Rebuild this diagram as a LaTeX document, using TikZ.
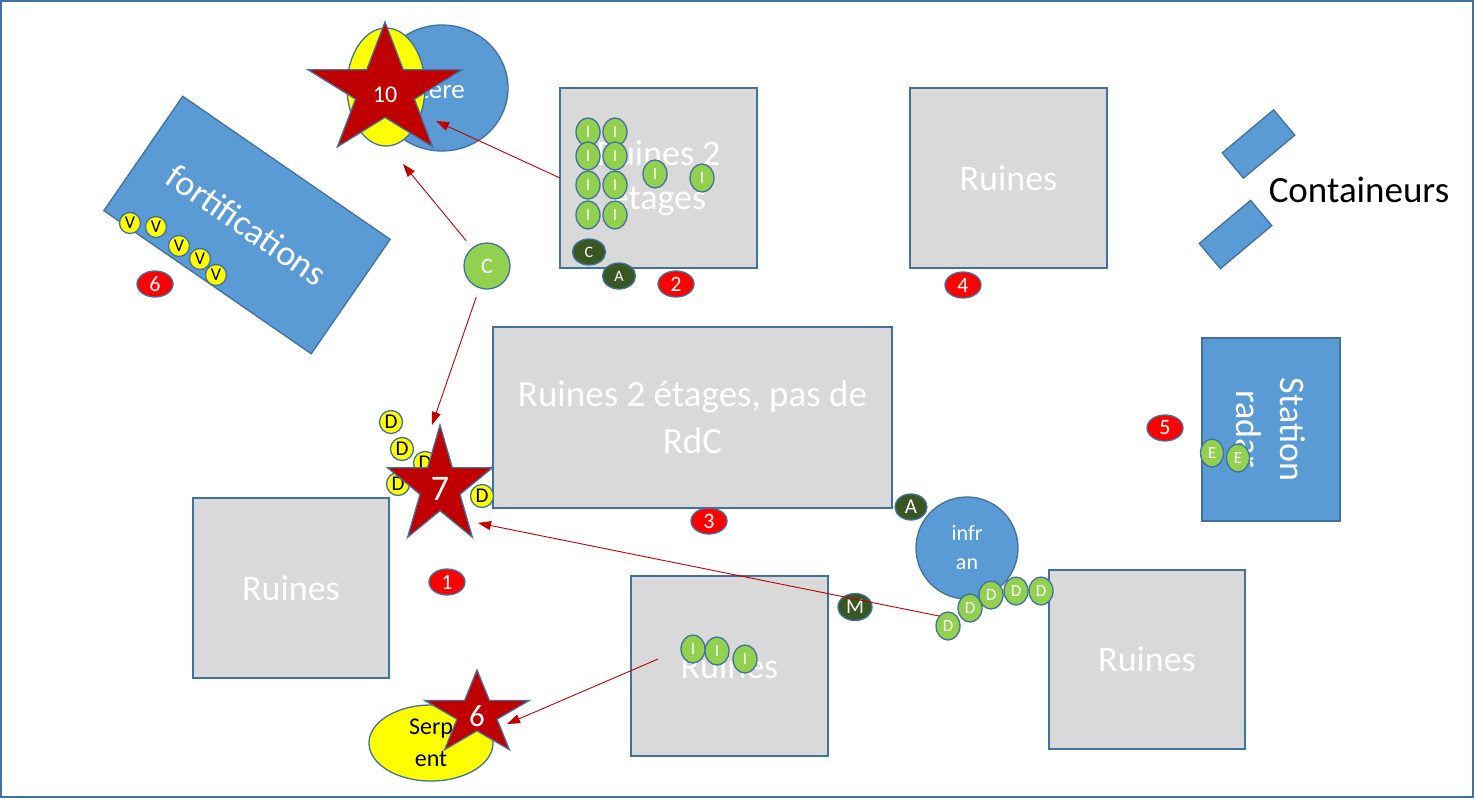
\documentclass[tikz,border=0pt]{standalone}
\usepackage{fontspec}
\setmainfont{Carlito}
\usetikzlibrary{arrows.meta,shapes.geometric,calc}
\definecolor{outl}{HTML}{41719C}
\definecolor{bluef}{HTML}{5B9BD5}
\definecolor{greyf}{HTML}{D9D9D9}
\definecolor{redf}{HTML}{FF0000}
\definecolor{darkred}{HTML}{C00000}
\definecolor{lgreen}{HTML}{92D050}
\definecolor{dgreen}{HTML}{385723}
\definecolor{yel}{HTML}{FFFF00}
\newcommand{\mystarshape}[4]{%
  \draw[starsty] ({#1+#3*cos(90)},{#2-#4*sin(90)})
    \foreach \a/\r in {126/0.382,162/1,198/0.382,234/1,270/0.382,306/1,342/0.382,18/1,54/0.382}{ -- ({#1+\r*#3*cos(\a)},{#2-\r*#4*sin(\a)}) } -- cycle;}
\tikzset{
  base/.style={draw=outl, line width=1.3pt, inner sep=0pt, outer sep=0pt},
  ruin/.style={base, rectangle, fill=greyf, text=white, font=\fontsize{36}{44}\selectfont, align=center},
  bluebox/.style={base, rectangle, fill=bluef, text=white, font=\fontsize{36}{44}\selectfont, align=center},
  blueell/.style={base, ellipse, fill=bluef, text=white, align=center},
  numred/.style={base, ellipse, fill=redf, text=white, minimum width=36pt, minimum height=26pt, font=\fontsize{22}{22}\selectfont},
  dkg/.style={base, ellipse, fill=dgreen, text=white, minimum width=33pt, minimum height=26pt},
  lg/.style={base, ellipse, fill=lgreen, text=white, minimum width=24pt, minimum height=28pt, font=\fontsize{17}{17}\selectfont},
  yc/.style={base, circle, fill=yel, text=black},
  starsty/.style={draw=outl, line width=1.3pt, fill=darkred},
  starlbl/.style={text=white, inner sep=0pt},
  arr/.style={draw=darkred, line width=0.9pt, -{Triangle[length=13pt,width=9pt]}},
  frame/.style={draw=outl, line width=2pt}
}
\begin{document}
\begin{tikzpicture}[x=1pt,y=-1pt]
\useasboundingbox (0,0) rectangle (1474,798);
\fill[white] (0,0) rectangle (1474,798);
\draw[frame] (1,1) rectangle (1473,797);

% grey ruins
\node[ruin, minimum width=197pt, minimum height=180pt] (ruinesA) at (658.5,178) {Ruines 2\\étages};
\node[ruin, minimum width=197pt, minimum height=180pt] (ruinesB) at (1008.5,178) {Ruines};
\node[ruin, minimum width=399pt, minimum height=181pt, font=\fontsize{37}{47}\selectfont] (ruinesC) at (692.5,417.5) {Ruines 2 étages, pas de\\RdC};
\node[ruin, minimum width=196pt, minimum height=180pt] (ruinesD) at (291,588) {Ruines};
\node[ruin, minimum width=197pt, minimum height=180pt] (ruinesE) at (729.5,666) {Ruines};
\node[ruin, minimum width=196pt, minimum height=179pt] (ruinesF) at (1147,659.5) {Ruines};

% blue shapes
\node[bluebox, minimum width=252pt, minimum height=139pt, rotate=-34.6] (fort) at (247,225) {fortifications};
\node[bluebox, minimum width=183pt, minimum height=138pt, rotate=-90] (radar) at (1271,429.5) {Station\\radar};
\node[bluebox, minimum width=67pt, minimum height=33pt, rotate=40] (cont1) at (1258.5,144) {};
\node[bluebox, minimum width=67pt, minimum height=33pt, rotate=40] (cont2) at (1235.5,234.5) {};
\node[text=black, inner sep=0pt, font=\fontsize{37}{44}\selectfont] (contl) at (1359,190) {Containeurs};

% cimetiere
\node[blueell, minimum width=132pt, minimum height=126pt] (cim) at (442,88) {};
\node[text=white, inner sep=0pt, anchor=east, font=\fontsize{27}{27}\selectfont] (cimt) at (465,89) {Cimetere};
\node[base, ellipse, fill=yel, minimum width=78pt, minimum height=118pt] (yel1) at (386,87) {};
\mystarshape{385}{91}{81}{69}
\node[starlbl, font=\fontsize{24}{24}\selectfont] (s10) at (385,95) {10};

% infran
\node[blueell, minimum width=102pt, minimum height=102pt, font=\fontsize{22}{29}\selectfont] (infran) at (967,548) {infr\\an};

% serpent
\node[base, ellipse, fill=yel, text=black, align=center, minimum width=124pt, minimum height=76pt, font=\fontsize{24}{32}\selectfont] (serp) at (431,743) {Serp\\ent};
\mystarshape{477}{714}{55}{44}
\node[starlbl, font=\fontsize{31}{31}\selectfont] (s6) at (477,716) {6};

% red numbers
\node[numred] (n6) at (155,284) {6};
\node[numred] (n2) at (676,284) {2};
\node[numred] (n4) at (963,285) {4};
\node[numred] (n5) at (1165,428) {5};
\node[numred] (n3) at (709,521) {3};
\node[numred] (n1) at (447,582) {1};

% I in ruines A
\foreach \x in {588,615}{
  \foreach \y in {132,156,185,215}{
    \node[lg] at (\x,\y) {I};
  }
}
\node[lg] (iA9) at (655,174) {I};
\node[lg] (iA10) at (702,178) {I};
% I in ruines E
\node[lg] (iE1) at (693,649) {I};
\node[lg] (iE2) at (717,651) {I};
\node[lg] (iE3) at (745,659) {I};

% dark green
\node[dkg, font=\fontsize{16}{16}\selectfont] (dC) at (589,252) {C};
\node[dkg, font=\fontsize{16}{16}\selectfont] (dA1) at (619,276) {A};
\node[dkg, minimum width=32pt, minimum height=26pt, font=\fontsize{21}{21}\selectfont] (dA2) at (911,507) {A};
\node[dkg, minimum width=34pt, minimum height=27pt, font=\fontsize{21}{21}\selectfont] (dM) at (855,607) {M};

% light green C
\node[base, circle, fill=lgreen, text=white, minimum size=46pt, font=\fontsize{22}{22}\selectfont] (cC) at (487,266) {C};

% V
\foreach \x/\y in {130/223,156/227,179/246,200/259,216/275}{
  \node[yc, minimum size=21pt, font=\fontsize{18}{18}\selectfont] at (\x,\y) {V};
}
% yellow D near star 7
\foreach \x/\y in {391/422,402/449,425/463,398/484,482/496}{
  \node[yc, minimum size=23pt, font=\fontsize{21}{21}\selectfont] at (\x,\y) {D};
}
\mystarshape{440}{487}{55}{62}
\node[starlbl, font=\fontsize{36}{36}\selectfont] (s7) at (440,489) {7};

% green D near infran
\node[lg] (gD1) at (948,626) {D};
\node[lg] (gD2) at (970,608) {D};
\node[lg] (gD3) at (991,595) {D};
\node[lg] (gD4) at (1016,591) {D};
\node[lg] (gD5) at (1041,591) {D};

% E
\node[lg, minimum width=23pt] (e1) at (1212,453) {E};
\node[lg, minimum width=23pt] (e2) at (1238,458) {E};

% arrows
\coordinate (t1) at (436,121);
\coordinate (t2) at (403,164);
\coordinate (t3) at (432,425);
\coordinate (t4) at (478,523);
\coordinate (s5) at (658,659);
\coordinate (t5) at (507,724);
\draw[arr] (ruinesA.west) -- (t1);
\draw[arr, shorten <=10pt] (cC) -- (t2);
\draw[arr, shorten <=10pt] (cC) -- (t3);
\draw[arr] (gD1.north west) -- (t4);
\draw[arr] (s5) -- (t5);
\end{tikzpicture}
\end{document}
